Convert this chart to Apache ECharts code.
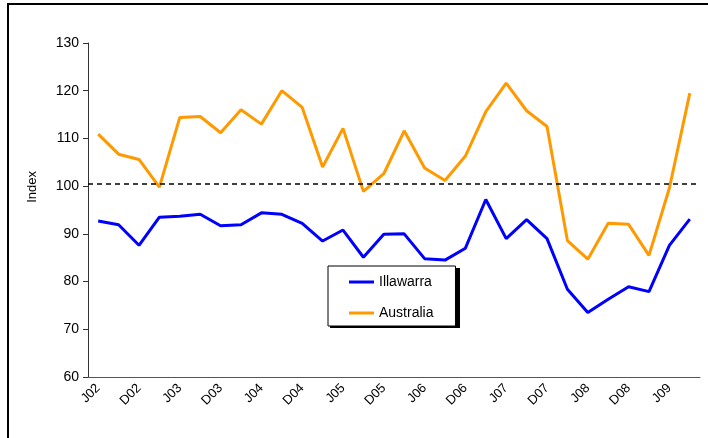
<!DOCTYPE html>
<html>
<head>
<meta charset="utf-8">
<script src="https://cdn.jsdelivr.net/npm/echarts@6/dist/echarts.min.js"></script>
<style>
  html, body { margin: 0; padding: 0; background: #fff; overflow: hidden; }
  #frame { position: absolute; left: 7px; top: 3px; width: 760px; height: 500px; border: 2px solid #000; box-sizing: border-box; }
  #chart { position: absolute; left: 0; top: 0; width: 708px; height: 438px; }
</style>
</head>
<body>
<div id="frame"></div>
<div id="chart"></div>
<script>
const categories = ['J02','S02','D02','M03','J03','S03','D03','M04','J04','S04','D04','M05','J05','S05','D05','M06','J06','S06','D06','M07','J07','S07','D07','M08','J08','S08','D08','M09','J09','S09'];
const illawarra = [92.7, 91.9, 87.6, 93.5, 93.7, 94.1, 91.7, 91.9, 94.4, 94.1, 92.2, 88.5, 90.8, 85.1, 89.9, 90.0, 84.8, 84.5, 87.0, 97.2, 89.0, 93.0, 89.0, 78.4, 73.5, 76.3, 78.9, 77.9, 87.6, 93.1];
const australia = [110.9, 106.7, 105.6, 99.8, 114.4, 114.6, 111.2, 116.0, 113.0, 120.0, 116.5, 104.0, 112.1, 98.9, 102.6, 111.6, 103.8, 101.2, 106.3, 115.6, 121.6, 115.8, 112.5, 88.6, 84.7, 92.2, 92.0, 85.5, 99.6, 119.5];
const yTicks = [60, 70, 80, 90, 100, 110, 120, 130];
const referenceLevel = 100.5;

const chart = echarts.init(document.getElementById('chart'), null, { renderer: 'canvas' });
const font = '"Liberation Sans", Arial, sans-serif';
chart.setOption({
  animation: false,
  backgroundColor: 'transparent',
  textStyle: { fontFamily: font },
  grid: { left: 88, right: 8, top: 43, bottom: 61, containLabel: false },
  legend: {
    data: [{ name: 'Illawarra', icon: 'rect' }, { name: 'Australia', icon: 'rect' }],
    orient: 'vertical',
    left: 328, top: 266,
    padding: [9, 22, 6, 21],
    itemGap: 17,
    itemWidth: 25, itemHeight: 3,
    backgroundColor: '#fff',
    borderColor: '#000', borderWidth: 1,
    textStyle: { fontFamily: font, fontSize: 14, color: '#000' },
    z: 5
  },
  xAxis: {
    type: 'category',
    data: categories,
    boundaryGap: true,
    axisLine: { lineStyle: { color: '#555', width: 1 } },
    axisTick: { interval: 0, length: 5, lineStyle: { color: '#333' } },
    axisLabel: { interval: 1, rotate: 45, fontFamily: font, fontSize: 13, color: '#000', margin: 9 },
    splitLine: { show: false }
  },
  yAxis: {
    type: 'value',
    min: yTicks[0], max: yTicks[yTicks.length - 1], interval: 10,
    axisLine: { show: true, lineStyle: { color: '#333', width: 1 } },
    axisTick: { show: true, length: 5, inside: false, lineStyle: { color: '#333' } },
    axisLabel: { fontFamily: font, fontSize: 14, color: '#000', margin: 9 },
    splitLine: { show: false }
  },
  graphic: [
    {
      type: 'text', left: 26, top: 171, rotation: Math.PI / 2,
      style: { text: 'Index', font: '13px ' + font, fill: '#000' }
    },
    {
      type: 'rect', left: 330, top: 268, z: 1,
      shape: { width: 130, height: 60 },
      style: { fill: '#000' }
    }
  ],
  series: [
    {
      name: 'Illawarra', type: 'line', data: illawarra,
      symbol: 'none', color: '#0000ff',
      lineStyle: { color: '#0000ff', width: 3 },
      z: 3
    },
    {
      name: 'Australia', type: 'line', data: australia,
      symbol: 'none', color: '#ff9900',
      lineStyle: { color: '#ff9900', width: 3 },
      z: 2,
      markLine: {
        silent: true, symbol: 'none', label: { show: false },
        lineStyle: { color: '#000', type: [5, 4], width: 1.5 },
        data: [{ yAxis: referenceLevel }]
      }
    }
  ]
});
</script>
</body>
</html>
